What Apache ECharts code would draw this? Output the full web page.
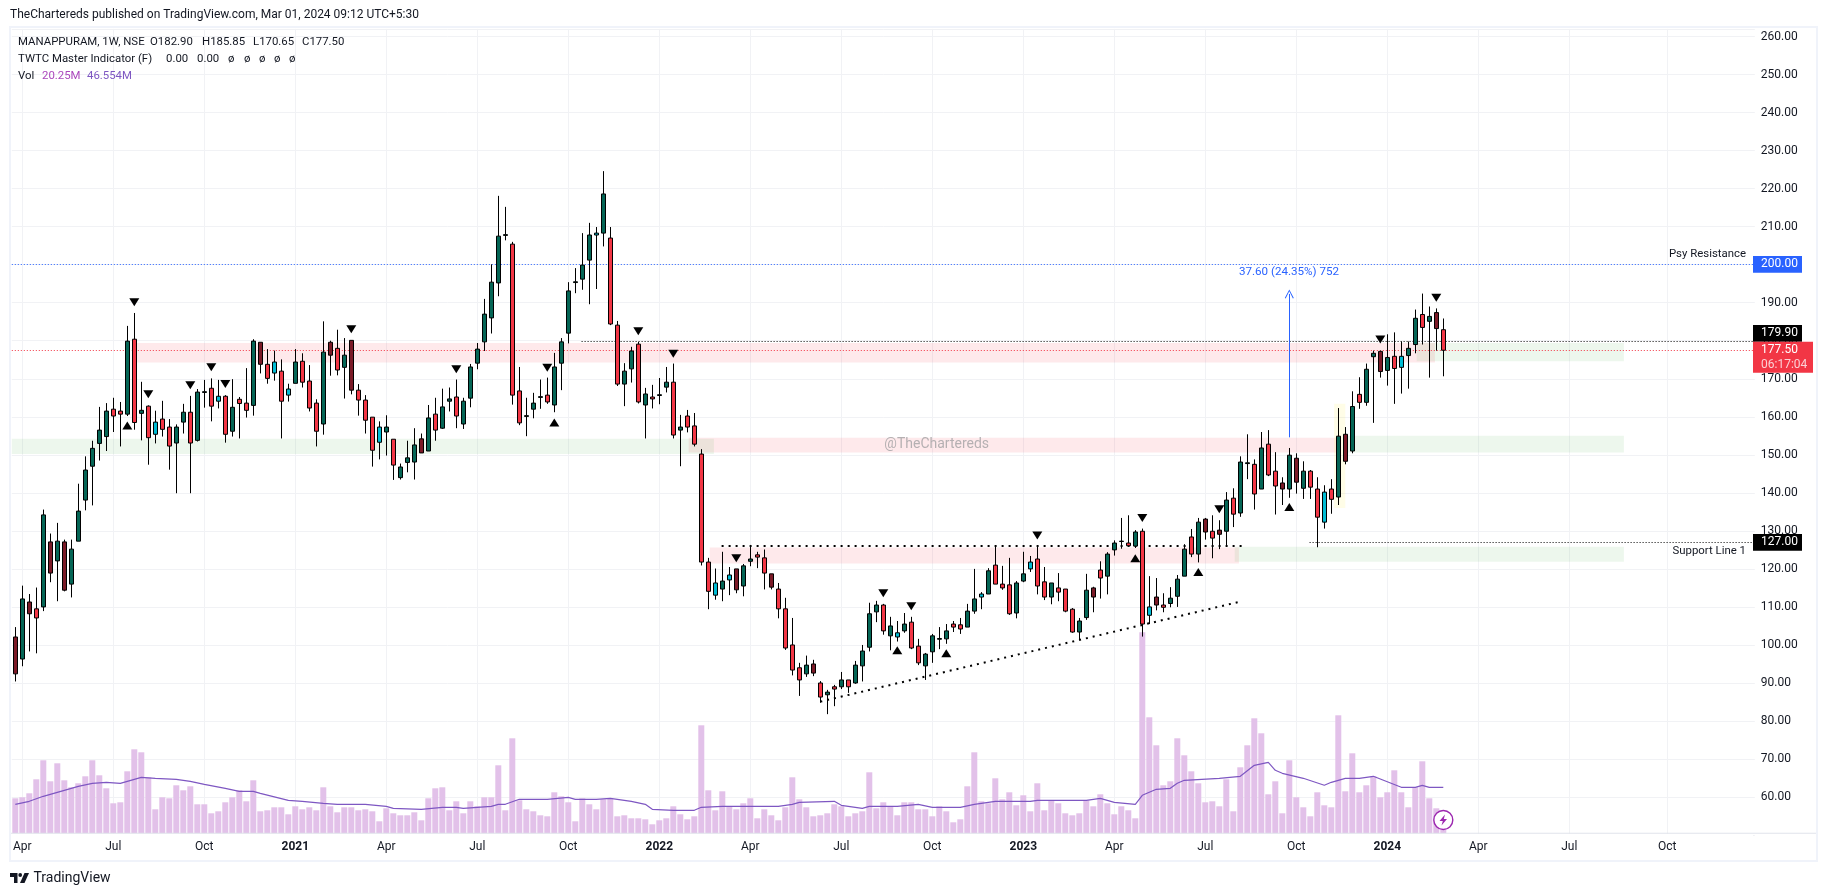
<!DOCTYPE html>
<html>
<head>
<meta charset="utf-8">
<title>MANAPPURAM 1W</title>
<style>
html,body{margin:0;padding:0;background:#fff;}
#chart_main{width:1827px;height:896px;}
</style>
<script src="https://cdn.jsdelivr.net/npm/echarts@6/dist/echarts.min.js"></script>
</head>
<body>
<div id="chart_main"></div>
<script type="text/javascript">
// weekly bars, week 0 = 30 Mar 2020
var opens = [
102.1,96.3,111.3,109.5,110,127.1,122.1,127.1,116,127.3,
138.1,147,153,154.8,162,161.5,160.7,180.4,160.9,162.8,
155.4,159.4,157.3,153.1,158.6,161.2,153.8,166.4,167.5,164.1,
165.4,156.2,164.6,163.6,163,179.6,173.8,171.5,172,165.7,
168.8,174.6,169.4,163.6,158.1,179.6,178,173,180.1,167,
164.4,159.9,153.3,156,154.1,144,148,148.1,154.2,151,
160.7,157,164.1,165.2,158.1,164.9,174.1,179.7,186,195.2,
207.7,205.4,166.8,160.1,162,165.1,165.7,163.1,174.1,182,
195.3,196.2,201.2,207.8,208.3,207,184.1,168.6,172.6,179.1,
163.1,165.2,165.6,167.8,169.1,156.5,160.2,157.6,150.2,121.8,
113.1,114.7,117.1,120,115.5,122,123.7,122.9,118.7,114.7,
109.5,100,94,92.4,95,90,86.9,89,89,90.8,
90,94.5,99.4,108.7,110.5,102.4,102.1,103.7,106,99.7,
94.5,98.2,101.5,101.6,105.5,105.3,104.7,108.9,112.6,113.4,
121,116,115.8,108.4,116.8,120,122.6,116.6,112.6,115,
114.7,109.4,103.4,107.2,115,119.7,118.1,125,127.2,126.8,
126,129.9,107.8,112.6,110.5,110.9,112.8,118.1,128.4,123.9,
133.1,129.9,130.2,129.9,138.6,134.7,147.7,147.5,141,152.8,
145.7,142.6,141,149.1,141.2,145.7,141,132.3,141,138.9,
155.4,151,165.9,163.8,175.8,177.2,172.2,175.9,173,176.1,
179,186.9,185.1,187.4,182.9];
var closes = [
92.4,112.1,108.2,107.1,134.2,118.9,127.3,114.4,125.2,135.2,
146,151.7,156.5,161.5,160.2,160.7,179.9,158.5,161.7,154.5,
158.6,156.7,152.3,157.3,161.2,153.1,166.5,166.6,162.8,165.4,
155.4,162.5,163.5,161.7,179.9,173.8,170.1,174.4,164.1,167.3,
174.4,169.1,162.3,156.2,177,176.2,172.3,176.2,167,164.4,
159.1,151.2,157.3,157.3,147.3,146.8,149.2,152.6,150.5,159.7,
156.5,162.6,164.7,160.2,164.1,173.1,177.8,187,195.4,207.5,
207.9,165.7,158.4,160.3,163.6,165.3,163.9,173.1,179.7,193.1,
195.5,199.9,207.8,208.3,218.6,184.4,168.6,172,177.3,163.9,
166,164.7,165.8,169.1,155.2,157.3,157.3,152.8,121.8,114.1,
116.3,116.8,118.4,114.5,120.8,122.6,123.1,118.9,115.2,109.5,
99.2,93.4,90.8,94.7,92.6,86.3,87.6,88.4,90.8,89,
94.7,98.4,108.2,110.5,103.7,105,103.2,105.5,99.2,95.3,
97.6,102.4,101.7,103.7,104.7,104.2,108.9,112.1,113.4,119.5,
116,115,108.2,116.3,118.7,121.8,115.5,112.6,116.3,113.9,
108.9,103.4,106.3,114.4,112.6,117.6,123.9,126.8,127.3,126.1,
129.7,105.5,110,110.5,109.9,112.3,117.3,125.2,123.9,132.3,
129.7,128.1,129.1,138.1,134.4,148.1,147.9,139.7,151.8,144.7,
141.8,141,149.9,142.8,145.7,141.5,133.6,140.2,138.3,154.9,
148.3,162.7,163.8,172.5,176.7,171.9,175.6,172.7,175.9,178,
185.9,183.5,186.4,183.2,177.5];
var highs = [
104.7,115.6,113.4,115.1,135.6,129.3,132.1,127.7,127.7,142.4,
149.6,153.7,162.6,163.6,165,163.9,183.9,187.3,169.2,163,
161.6,164.2,159.4,158,163.4,165.5,167.3,169.7,170.1,169.7,
165.7,169.9,165.2,172.8,180.4,179.6,177.8,177.4,175.1,168.7,
177.8,176.7,173.6,164.6,185.1,180,182.9,180.7,180.1,168.6,
165.7,159.9,158.8,160.4,154.1,147.7,153.7,157,155.6,163.1,
165,167.4,167.7,169.8,165,173.9,179.4,191,200.1,218.1,
215.2,206,173.1,165,166.3,169.8,170.3,176.8,180.7,195.4,
199.1,208.3,211,209.9,224.6,209.9,185.2,174.1,178.4,179.7,
167.6,168.4,170.2,173.1,174,160.5,161.8,161,151.5,122.9,
120.1,124.5,120.5,120,121.3,126.3,124.5,125.1,118.7,116.3,
112.4,107.1,95.3,97.2,96.1,90.5,88.2,89.5,92.9,90.8,
95.8,100,111.1,111.6,110.8,107.4,106.3,108.4,107.4,101.6,
97.9,102.9,104.7,105.5,106.3,107.1,110.8,120,113.9,120.2,
126.1,120.8,122.9,116.8,124.5,123.4,126.1,120.5,116.3,118.9,
114.7,109.7,107.1,118.7,115.3,122,124.4,127.5,133.4,134.1,
130.2,130.6,118.1,117.6,113.6,115.2,118.4,126.5,130.5,133.4,
133.4,134.1,132.8,140.2,141.2,149.6,155.4,148.8,156,156.5,
150.7,144.1,151.8,150.4,148.3,146,144.1,142,143.6,162.3,
157.3,166.7,170.4,174,177.4,177.4,181.7,182.2,179.8,179.8,
188.2,192.4,189,188.5,185.85];
var lows = [
90.4,94.4,98.3,97.8,108.9,116.5,111.5,114.1,112.5,127.3,
135.4,136.7,148.5,151,156,152.2,160.2,156.6,153.8,147.4,
153,154.8,146.1,139.9,155.6,139.9,153.5,162.4,158.8,162.2,
153.2,154.8,154.3,159.8,160.3,171.4,168.7,169.5,154.3,164,
168.8,167.7,161.4,152.2,155.3,170.8,170.9,164.8,165.9,160.3,
155.6,146.9,148.8,149.8,143.4,143.5,145.4,143.5,150.5,151,
153.7,156.8,161.4,157,156.8,162.5,172.5,177.3,181.9,191.7,
206.4,163.2,157.8,154.9,159.6,162.1,163.4,161.2,167,179.3,
192.5,193.4,189.6,193.6,204.8,184.1,168.1,162.8,169,163.5,
154.3,162.2,163.3,166.4,154.3,147,155.9,152.2,120.9,109.4,
111.9,111.5,113.1,113.6,112.8,120.7,120.2,114.6,114.6,107,
98.7,92,86.6,91.6,91.8,84.8,81.8,83.9,88.4,87.4,
89.8,90.4,98.3,106,102.7,98.6,100.9,103.2,98.9,94.7,
90.8,95.3,98.9,100.3,103.4,102.9,104.7,108.2,109.4,113.4,
116,114.5,107.9,107,116.5,119.2,113.3,111.8,110.7,111.5,
108.6,103.2,101.4,106.6,108.6,112.2,113.3,123.5,125.3,126.1,
125.5,102.2,105.5,109.1,108.6,109.9,110,118.1,123.1,121.7,
127.7,122.8,125.2,126.1,131,133.7,143.6,135.6,141,144.4,
134.3,136.8,138.7,139.8,138.4,138.4,125.7,130.6,134.5,136.8,
147.5,150.4,162.1,162.9,158.4,170.3,168.2,163.4,166.1,167.4,
176.7,179,170.3,177.4,170.65];
// volume in millions
var volumes = [
35,36,40,54,73,52,70,53,46,50,
57,73,58,45,30,31,62,84,81,56,
24,36,35,48,43,47,29,29,20,22,
31,36,43,32,53,22,23,26,26,19,
27,24,26,23,46,27,21,26,26,23,
24,22,12,25,20,18,18,21,13,35,
45,46,23,32,20,32,27,36,36,68,
23,95,33,24,22,18,17,41,37,31,
12,35,29,24,34,35,17,18,15,15,
14,9,13,15,27,19,14,17,108,43,
23,42,27,24,30,35,15,24,18,13,
26,56,34,26,17,18,20,29,27,17,
20,22,61,25,31,27,18,31,31,24,
24,17,27,22,11,14,47,81,32,30,
55,34,41,28,38,22,50,23,33,30,
20,18,20,33,27,39,30,19,27,23,
15,201,116,88,48,52,95,78,62,50,
31,32,27,54,22,66,88,115,100,39,
52,20,73,36,26,17,41,28,26,118,
42,80,41,48,57,36,41,63,41,26,
46,72,35,25,20];
// volume average, read at its turning points
var maWeeks = [
0,2,4,7,9,11,13,15,16,18,20,23,25,27,30,32,34,35,39,41,
44,46,50,53,54,58,61,63,64,68,69,70,72,76,79,80,83,85,88,90,
91,94,97,98,101,109,111,112,117,118,121,122,126,129,131,135,137,138,140,145,
146,153,155,157,160,161,163,165,166,167,172,175,177,179,180,181,184,187,188,190,
192,194,198,200,201,202,204];
var maValues = [
29,32,37,43,47,50,51,50,52,56,55,54,52,49,45,42,42,40,33,32,
30,29,29,27,25,24,26,26,25,27,29,29,34,34,36,34,34,35,32,29,
24,23,23,26,27,27,29,31,32,28,25,27,27,29,26,26,29,30,32,32,
33,33,35,31,29,38,44,45,50,53,55,57,68,71,63,60,55,48,51,55,
55,57,46,46,48,46,46];

var tickWeeks = [1,14,27,40,53,66,79,92,105,118,131,144,157,170,183,196,209,222,236];
var tickLabels = ['Apr','Jul','Oct','2021','Apr','Jul','Oct','2022','Apr','Jul','Oct','2023','Apr','Jul','Oct','2024','Apr','Jul','Oct'];
var priceTicks = [260,250,240,230,220,210,200,190,180,170,160,150,140,130,120,110,100,90,80,70,60];
var darkWeeks = [0,2,5,7,35,45,48,58,103,108,114,154,163,170,172,181,183,190,195,203];
var cyanWeeks = [20,29,37,39,52,83,100,102,126,138,145,162,187,198];
var downMarks = [[17,190.1],[19,165.9],[25,168.3],[28,173],[30,168.6],[48,183],[63,172.5],[76,172.9],[89,182.5],[94,176.6],[103,122.8],[124,113.6],[128,110.2],[146,128.8],[161,133.4],[172,135.7],[195,180.3],[203,191.3]];
var upMarks = [[16,157.7],[77,158.5],[126,98.6],[133,97.8],[160,122.8],[169,119.2],[182,136.3]];
// [from week, to week, top price, bottom price]
var redZones = [[17.4,202.8,179.4,174.3],[96.2,188.8,154.5,150.6],[99.2,174.8,125.6,121.4]];
var greenZones = [[-0.5,99.8,154.2,150.2],[200.2,229.8,179.4,174.6],[189.8,229.8,155,150.6],[174.2,229.8,125.8,121.9]];
var yellowZones = [[188.4,190,163.4,136]];
// level lines, a hair off the printed prices so the dots fall on one pixel row
var psyLevel = 200.05;
var lastLevel = 177.43;
var prevLevel = 179.8;
var supportLevel = 126.95;

var weekCount = 249;
var weekLabels = [];
for (var w = 0; w < weekCount; w++) {
	var at = tickWeeks.indexOf(w);
	weekLabels.push(at >= 0 ? tickLabels[at] : '');
}

var candleData = [];
for (var i = 0; i < opens.length; i++) {
	var body = closes[i] >= opens[i] ? '#056656' : '#f23645';
	if (darkWeeks.indexOf(i) >= 0) body = '#7b1a27';
	if (cyanWeeks.indexOf(i) >= 0) body = '#00bcd4';
	candleData.push({
		value: [opens[i], closes[i], lows[i], highs[i]],
		itemStyle: {color: body, color0: body, borderColor: '#000', borderColor0: '#000', borderWidth: 1}
	});
}
function zoneData(list) {
	return list.map(function (z) {
		return [{coord: [z[0], z[2]]}, {coord: [z[1], z[3]]}];
	});
}
function zoneSeries(list, fill, z) {
	return {
		type: 'line', xAxisIndex: 1, yAxisIndex: 0, data: [], z: z, silent: true,
		markArea: {silent: true, z: z, itemStyle: {color: fill}, data: zoneData(list)}
	};
}
function lineSeries(items, color, width, dash, z, ends) {
	return {
		type: 'line', xAxisIndex: 1, yAxisIndex: 0, data: [], z: z, silent: true,
		markLine: {
			silent: true, z: z, symbol: ends || 'none', symbolSize: 9, label: {show: false}, animation: false,
			lineStyle: {color: color, width: width, type: dash, opacity: 1},
			emphasis: {disabled: true},
			data: items
		}
	};
}
var chevron = 'path://M0 10L5 0L10 10L9 10.6L5 2.2L1 10.6Z';
var font = 'Roboto';
var ink = '#131722';
var gridColor = '#f1f2f5';

function label(x, y, text, extra) {
	var style = {x: x, y: y, text: text, fill: ink, font: '12px ' + font, textVerticalAlign: 'middle'};
	for (var k in (extra || {})) style[k] = extra[k];
	return {type: 'text', z: 50, silent: true, style: style};
}
function legend(x, y, text, fill) {
	return label(x, y, text, {font: '11.4px ' + font, fill: fill || ink});
}
function tag(y0, y1, w, fill, text, ty) {
	return [
		{type: 'rect', z: 40, silent: true, shape: {x: 1753, y: y0, width: w, height: y1 - y0}, style: {fill: fill}},
		label(1761, ty === undefined ? (y0 + y1) / 2 : ty, text, {fill: '#fff'})
	];
}
var graphics = [
	{type: 'rect', z: 30, silent: true, shape: {x: 11, y: 833.8, width: 1742, height: 3}, style: {fill: '#fff'}},
	{type: 'rect', z: 31, silent: true, shape: {x: 11, y: 832.8, width: 1805, height: 1}, style: {fill: '#e0e3eb'}},
	{type: 'rect', z: 31, silent: true, shape: {x: 10, y: 27, width: 1807, height: 834}, style: {fill: 'none', stroke: '#f0f3fa', lineWidth: 2}},
	label(10, 14.7, 'TheChartereds published on TradingView.com, Mar 01, 2024 09:12 UTC+5:30'),
	legend(18, 41.7, 'MANAPPURAM, 1W, NSE'),
	legend(150, 41.7, 'O182.90'), legend(202, 41.7, 'H185.85'), legend(253, 41.7, 'L170.65'), legend(302, 41.7, 'C177.50'),
	legend(18, 59, 'TWTC Master Indicator (F)'),
	legend(166, 59, '0.00'), legend(197, 59, '0.00'),
	legend(228, 59, 'ø'), legend(244, 59, 'ø'), legend(259, 59, 'ø'), legend(274, 59, 'ø'), legend(289, 59, 'ø'),
	legend(18, 76, 'Vol'),
	legend(42, 76, '20.25M', '#ab47bc'),
	legend(87, 76, '46.554M', '#7e57c2'),
	label(1746, 254, 'Psy Resistance', {textAlign: 'right', font: '11.4px ' + font}),
	label(1746, 551, 'Support Line 1', {textAlign: 'right', font: '11.4px ' + font}),
	label(1289, 271.7, '37.60 (24.35%) 752', {fill: '#2962ff', textAlign: 'center', font: '11.6px ' + font}),
	label(936.7, 444.7, '@TheChartereds', {fill: '#b5b0b2', font: '14px ' + font, textAlign: 'center'}),
	// TradingView mark
	{type: 'polygon', z: 50, silent: true, shape: {points: [[10, 873], [17.5, 873], [17.5, 883], [14, 883], [14, 877], [10, 877]]}, style: {fill: ink}},
	{type: 'polygon', z: 50, silent: true, shape: {points: [[24.5, 873], [29, 873], [24.5, 883], [20, 883]]}, style: {fill: ink}},
	{type: 'circle', z: 50, silent: true, shape: {cx: 20.2, cy: 875, r: 1.9}, style: {fill: ink}},
	label(33.5, 878, 'TradingView', {font: '14px ' + font}),
	{type: 'circle', z: 50, silent: true, shape: {cx: 1443.3, cy: 820, r: 9.5}, style: {fill: '#fff', stroke: '#9c27b0', lineWidth: 1.4}},
	{type: 'polygon', z: 51, silent: true, shape: {points: [[1445, 814.5], [1439.5, 821], [1442.8, 821], [1441.5, 825.5], [1447, 819], [1443.8, 819]]}, style: {fill: '#9c27b0'}}
];
graphics = graphics
	.concat(tag(256, 272.7, 49, '#2962ff', '200.00'))
	.concat(tag(325, 341.7, 49, '#000', '179.90'))
	.concat(tag(341.7, 372.7, 60, '#f23645', '177.50', 350))
	.concat([label(1761, 364.6, '06:17:04', {fill: '#fbd0d4'})])
	.concat(tag(534, 550.7, 49, '#000', '127.00'));

var option = {
	animation: false,
	backgroundColor: '#fff',
	grid: {left: 11.8, top: 28.9, width: 1743, height: 806.2},
	xAxis: [
		{
			type: 'category', data: weekLabels, boundaryGap: true,
			axisLine: {show: false}, axisTick: {show: false}, splitLine: {show: false},
			axisLabel: {
				interval: 0, margin: 6, color: ink, fontFamily: font, fontSize: 12,
				formatter: function (v) { return /^\d/.test(v) ? '{y|' + v + '}' : v; },
				rich: {y: {fontWeight: 'bold', color: ink, fontFamily: font, fontSize: 12}}
			}
		},
		{type: 'value', show: false, min: -0.5, max: weekCount - 0.5, splitLine: {show: false}}
	],
	yAxis: [
		{
			type: 'value', position: 'right', min: 50, max: 262, interval: 10,
			axisLine: {show: false}, axisTick: {show: false},
			splitLine: {lineStyle: {color: gridColor, width: 1}},
			axisLabel: {
				margin: 6, color: ink, fontFamily: font, fontSize: 12,
				showMinLabel: false, showMaxLabel: false,
				formatter: function (v) { return priceTicks.indexOf(v) >= 0 ? v.toFixed(2) : ''; }
			}
		},
		{type: 'value', show: false, min: -1.8, max: 804.4, splitLine: {show: false}}
	],
	series: [
		lineSeries(tickWeeks.map(function (t) { return {xAxis: t}; }), gridColor, 1, 'solid', 1),
		zoneSeries(redZones, 'rgba(242,54,69,0.11)', 2),
		zoneSeries(greenZones, 'rgba(76,175,80,0.10)', 2),
		zoneSeries(yellowZones, 'rgba(255,235,59,0.12)', 2),
		{
			type: 'bar', yAxisIndex: 1, data: volumes, barWidth: 6, z: 3, silent: true,
			itemStyle: {color: '#e2c1e9'}
		},
		{
			type: 'line', yAxisIndex: 1, data: maWeeks.map(function (w, n) { return [w, maValues[n]]; }),
			showSymbol: false, symbol: 'none', z: 4, silent: true,
			lineStyle: {color: '#7e57c2', width: 1.2}
		},
		lineSeries([{yAxis: psyLevel}], '#2962ff', 1, [1, 2], 5),
		lineSeries([{yAxis: lastLevel}], '#f23645', 1, [1, 2], 5),
		lineSeries([[{coord: [80.9, prevLevel]}, {coord: [248.5, prevLevel]}]], '#000', 1, [1, 2], 5),
		lineSeries([[{coord: [184.9, supportLevel]}, {coord: [248.5, supportLevel]}]], '#000', 1, [1, 2], 5),
		lineSeries([[{coord: [100.9, 126]}, {coord: [175.8, 126]}]], '#000', 2, [2, 5], 5),
		lineSeries([[{coord: [115, 85.1]}, {coord: [175, 111.4]}]], '#000', 2, [2, 5], 5),
		lineSeries([[{coord: [182, 154.6]}, {coord: [182, 192.3]}]], '#2962ff', 1, 'solid', 5, ['none', chevron]),
		{
			type: 'candlestick', data: candleData, barWidth: 5, z: 6, silent: true
		},
		{
			type: 'scatter', data: downMarks, symbol: 'triangle', symbolRotate: 180, symbolSize: [10, 8], z: 7, silent: true,
			itemStyle: {color: '#000', opacity: 1}
		},
		{
			type: 'scatter', data: upMarks, symbol: 'triangle', symbolSize: [10, 8], z: 7, silent: true,
			itemStyle: {color: '#000', opacity: 1}
		}
	],
	graphic: graphics
};

var myChart = echarts.init(document.getElementById('chart_main'));
myChart.setOption(option);
</script>
</body>
</html>
